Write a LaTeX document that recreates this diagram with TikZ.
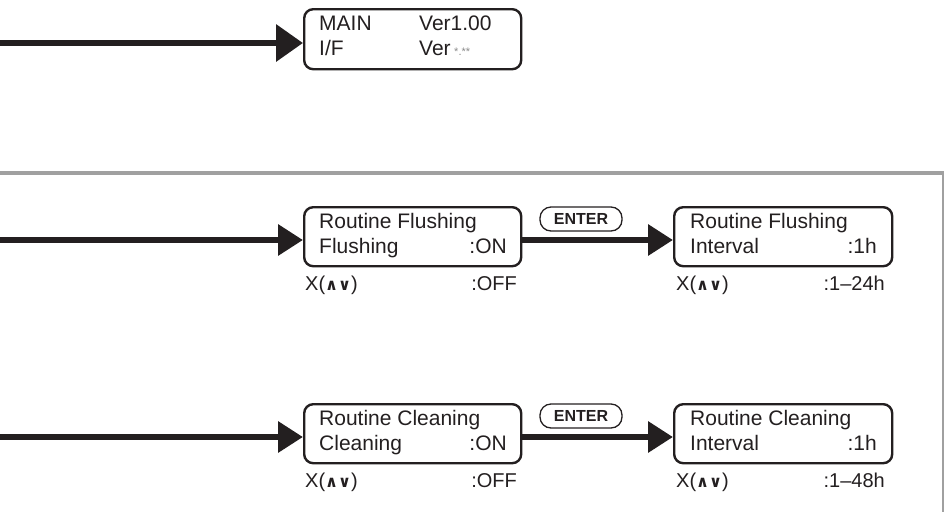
\documentclass[tikz,border=0pt]{standalone}
\usepackage{fontspec}
\setmainfont{Liberation Sans}
\newfontfamily\symfont{DejaVu Sans}
\usetikzlibrary{arrows.meta}
\definecolor{ink}{HTML}{231F20}
\definecolor{rulegray}{HTML}{A0A0A0}
\definecolor{stargray}{HTML}{8A8A8A}
\newcommand{\updn}{{\symfont\bfseries\fontsize{16}{16}\selectfont ∧∨}}
\begin{document}
\begin{tikzpicture}[x=1pt,y=-1pt,
 lcd/.style={draw=ink, line width=2.4pt, rounded corners=9pt, inner sep=0pt,
   minimum width=217pt, minimum height=59pt, anchor=north west},
 txt/.style={inner sep=0pt, font=\fontsize{21}{21}\selectfont, text=ink},
 lbl/.style={inner sep=0pt, font=\fontsize{20}{20}\selectfont, text=ink},
 key/.style={draw=ink, line width=1.3pt, rounded corners=11pt, minimum width=82pt,
   minimum height=24pt, inner sep=0pt, font=\fontsize{16}{16}\selectfont\bfseries, text=ink},
 flow/.style={draw=ink, line width=6.5pt, -{Triangle[length=25pt,width=30pt]}},
 bigflow/.style={draw=ink, line width=6.5pt, -{Triangle[length=27pt,width=36pt]}},
 sep/.style={draw=rulegray},
]
\useasboundingbox (0,0) rectangle (944,512);

% ---- version display ----
\node[lcd, minimum height=60pt] (ver) at (303,8) {};
\node[txt, anchor=base west] (v1) at (319,30) {MAIN};
\node[txt, anchor=base west] (v2) at (419,30) {Ver1.00};
\node[txt, anchor=base west] (v3) at (319,55) {I/F};
\node[txt, anchor=base west] (v4) at (419,55) {Ver\,{\color{stargray}\fontsize{11}{11}\selectfont *.**}};
\coordinate (s0) at (0,43);
\draw[bigflow] (s0) -- (s0 -| ver.west);

% ---- separator ----
\coordinate (g1) at (0,173);
\coordinate (g2) at (944,173);
\coordinate (g3) at (943,173);
\coordinate (g4) at (943,512);
\draw[sep, line width=4pt] (g1) -- (g2);
\draw[sep, line width=2pt] (g3) -- (g4);

% ---- routine flushing ----
\node[lcd] (f1) at (303,206) {};
\node[lcd, minimum width=218pt] (f2) at (673,206) {};
\node[key] (fe) at (581,219) {ENTER};
\node[txt, anchor=base west] (f1a) at (319,228) {Routine Flushing};
\node[txt, anchor=base west] (f1b) at (319,253) {Flushing};
\node[txt, anchor=base east] (f1c) at (507,253) {:ON};
\node[txt, anchor=base west] (f2a) at (690,228) {Routine Flushing};
\node[txt, anchor=base west] (f2b) at (690,253) {Interval};
\node[txt, anchor=base east] (f2c) at (877,253) {:1h};
\node[lbl, anchor=base west] (f1d) at (305,290) {X(\updn)};
\node[lbl, anchor=base east] (f1e) at (517,290) {:OFF};
\node[lbl, anchor=base west] (f2d) at (676,290) {X(\updn)};
\node[lbl, anchor=base east] (f2e) at (885,290) {:1--24h};
\coordinate (s1) at (0,240);
\draw[flow] (s1) -- (s1 -| f1.west);
\draw[flow] (s1 -| f1.east) -- (s1 -| f2.west);

% ---- routine cleaning ----
\node[lcd] (c1) at (303,403) {};
\node[lcd, minimum width=218pt] (c2) at (673,403) {};
\node[key] (ce) at (581,416) {ENTER};
\node[txt, anchor=base west] (c1a) at (319,425) {Routine Cleaning};
\node[txt, anchor=base west] (c1b) at (319,450) {Cleaning};
\node[txt, anchor=base east] (c1c) at (507,450) {:ON};
\node[txt, anchor=base west] (c2a) at (690,425) {Routine Cleaning};
\node[txt, anchor=base west] (c2b) at (690,450) {Interval};
\node[txt, anchor=base east] (c2c) at (877,450) {:1h};
\node[lbl, anchor=base west] (c1d) at (305,487) {X(\updn)};
\node[lbl, anchor=base east] (c1e) at (517,487) {:OFF};
\node[lbl, anchor=base west] (c2d) at (676,487) {X(\updn)};
\node[lbl, anchor=base east] (c2e) at (885,487) {:1--48h};
\coordinate (s2) at (0,437);
\draw[flow] (s2) -- (s2 -| c1.west);
\draw[flow] (s2 -| c1.east) -- (s2 -| c2.west);
\end{tikzpicture}
\end{document}
